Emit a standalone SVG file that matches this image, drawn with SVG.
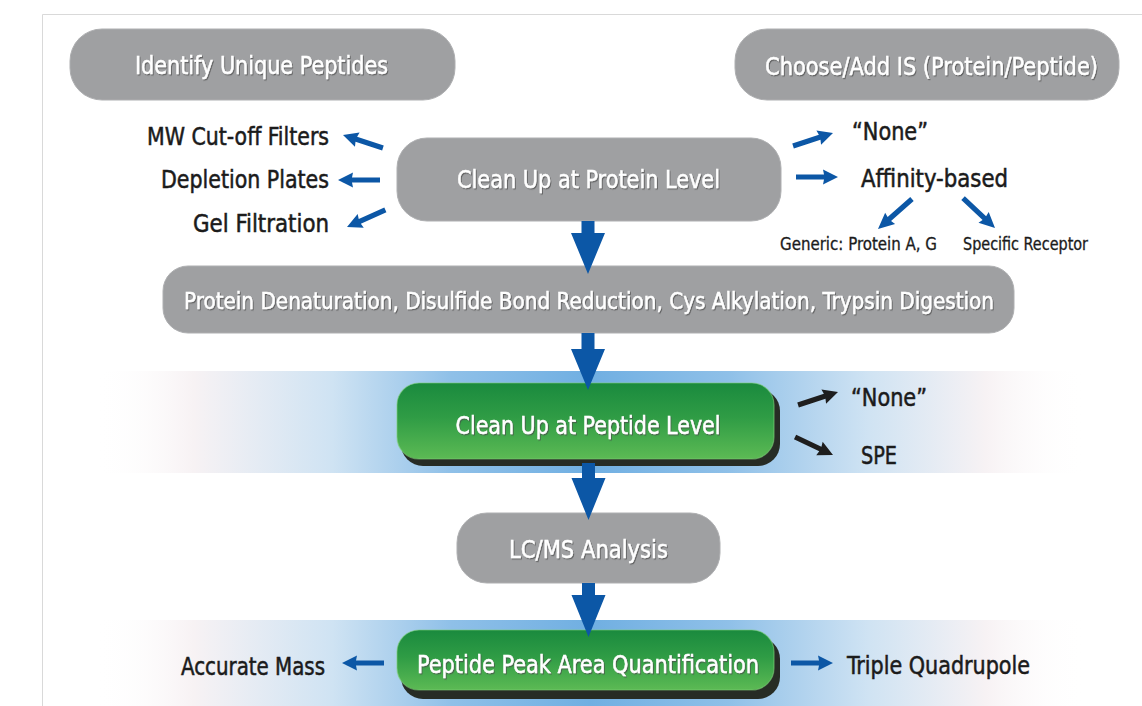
<svg xmlns="http://www.w3.org/2000/svg" xmlns:xlink="http://www.w3.org/1999/xlink" width="1142" height="706" viewBox="0 0 1142 706">
<style>
  text { font-family: "DejaVu Sans Condensed", "DejaVu Sans", "Liberation Sans", sans-serif; font-stretch: condensed; }
  .wt { fill: #ffffff; font-size: 24px; stroke: #ffffff; stroke-width: 0.45px; filter: url(#tshadow); }
  .lb { fill: #1b1b1b; font-size: 24px; stroke: #1b1b1b; stroke-width: 0.5px; }
  .sm { fill: #1b1b1b; font-size: 17px; stroke: #1b1b1b; stroke-width: 0.3px; }
  .gray { fill: #9fa0a2; stroke: #aeafb1; stroke-width: 1; }
  .blue { fill: #0c57a6; }
  .black { fill: #1e1e1e; }
  .shadow { fill: #272c25; }
  .green { fill: url(#ggrad); stroke: #7fcf7a; stroke-opacity: 0.6; stroke-width: 1.2; }
</style>
<defs>
  <filter id="tshadow" x="-10%" y="-30%" width="120%" height="160%">
    <feDropShadow dx="1" dy="1.2" stdDeviation="0.7" flood-color="#4a4a4a" flood-opacity="0.7"/>
  </filter>
  <linearGradient id="band" x1="0" y1="0" x2="1" y2="0">
    <stop offset="0" stop-color="#ffffff" stop-opacity="0"/>
    <stop offset="0.1" stop-color="#f7f2f4"/>
    <stop offset="0.24" stop-color="#cfe3f3"/>
    <stop offset="0.36" stop-color="#8fc0e8"/>
    <stop offset="0.5" stop-color="#70afe2"/>
    <stop offset="0.64" stop-color="#8fc0e8"/>
    <stop offset="0.78" stop-color="#cfe3f3"/>
    <stop offset="0.9" stop-color="#f7f2f4"/>
    <stop offset="1" stop-color="#ffffff" stop-opacity="0"/>
  </linearGradient>
  <linearGradient id="ggrad" x1="0" y1="0" x2="0" y2="1">
    <stop offset="0" stop-color="#1a8a3e"/>
    <stop offset="0.45" stop-color="#2f9c45"/>
    <stop offset="1" stop-color="#5cba54"/>
  </linearGradient>
  <path id="sa" d="M-42,-2.6 L-14,-2.6 L-15,-7.5 L0,0 L-15,7.5 L-14,2.6 L-42,2.6 Z"/>
</defs>

<rect width="1142" height="706" fill="#ffffff"/>
<path d="M42.5,706 L42.5,14.5 L1142,14.5" fill="none" stroke="#d9d9d9" stroke-width="1"/>

<g id="bands">
  <rect x="95" y="371" width="990" height="102" fill="url(#band)"/>
  <rect x="95" y="620" width="990" height="86" fill="url(#band)"/>
</g>

<g id="node-identify">
  <rect class="gray" x="70" y="29" width="385" height="71" rx="32"/>
  <text class="wt" x="261.5" y="74" text-anchor="middle" textLength="253" lengthAdjust="spacingAndGlyphs">Identify Unique Peptides</text>
</g>
<g id="node-choose">
  <rect class="gray" x="735" y="29" width="384" height="71" rx="32"/>
  <text class="wt" x="931.5" y="75" text-anchor="middle" textLength="333" lengthAdjust="spacingAndGlyphs">Choose/Add IS (Protein/Peptide)</text>
</g>
<g id="node-protein">
  <rect class="gray" x="397" y="138" width="384" height="83" rx="30"/>
  <text class="wt" x="588.5" y="188" text-anchor="middle" textLength="263" lengthAdjust="spacingAndGlyphs">Clean Up at Protein Level</text>
</g>
<g id="label-mw"><text class="lb" x="329" y="145" text-anchor="end" textLength="182" lengthAdjust="spacingAndGlyphs">MW Cut-off Filters</text></g>
<g id="label-depletion"><text class="lb" x="329" y="188" text-anchor="end" textLength="168" lengthAdjust="spacingAndGlyphs">Depletion Plates</text></g>
<g id="label-gel"><text class="lb" x="329" y="232" text-anchor="end" textLength="136" lengthAdjust="spacingAndGlyphs">Gel Filtration</text></g>
<g id="label-none1"><text class="lb" x="852" y="140" textLength="76" lengthAdjust="spacingAndGlyphs">“None”</text></g>
<g id="label-affinity"><text class="lb" x="861" y="187" textLength="147" lengthAdjust="spacingAndGlyphs">Affinity-based</text></g>
<g id="label-generic"><text class="sm" x="780" y="250" textLength="157" lengthAdjust="spacingAndGlyphs">Generic: Protein A, G</text></g>
<g id="label-specific"><text class="sm" x="963" y="250" textLength="125" lengthAdjust="spacingAndGlyphs">Specific Receptor</text></g>

<g id="node-denaturation">
  <rect class="gray" x="163" y="266" width="851" height="67" rx="25"/>
  <text class="wt" x="589" y="309" text-anchor="middle" style="font-size:23px" textLength="810" lengthAdjust="spacingAndGlyphs">Protein Denaturation, Disulfide Bond Reduction, Cys Alkylation, Trypsin Digestion</text>
</g>

<g id="node-peptide">
  <rect class="shadow" x="401" y="389" width="379" height="77" rx="22"/>
  <rect class="green" x="397" y="383" width="377" height="76" rx="22"/>
  <text class="wt" x="588" y="434" text-anchor="middle" textLength="265" lengthAdjust="spacingAndGlyphs">Clean Up at Peptide Level</text>
</g>
<g id="label-none2"><text class="lb" x="851" y="406" textLength="76" lengthAdjust="spacingAndGlyphs">“None”</text></g>
<g id="label-spe"><text class="lb" x="861" y="464" textLength="36" lengthAdjust="spacingAndGlyphs">SPE</text></g>

<g id="node-lcms">
  <rect class="gray" x="457" y="513" width="263" height="70" rx="30"/>
  <text class="wt" x="588.5" y="558" text-anchor="middle" textLength="159" lengthAdjust="spacingAndGlyphs">LC/MS Analysis</text>
</g>

<g id="node-quant">
  <rect class="shadow" x="401" y="637" width="379" height="62" rx="22"/>
  <rect class="green" x="397" y="630" width="377" height="60" rx="22"/>
  <text class="wt" x="588" y="673" text-anchor="middle" textLength="342" lengthAdjust="spacingAndGlyphs">Peptide Peak Area Quantification</text>
</g>
<g id="label-accurate"><text class="lb" x="325" y="675" text-anchor="end" textLength="144" lengthAdjust="spacingAndGlyphs">Accurate Mass</text></g>
<g id="label-triple"><text class="lb" x="847" y="674" textLength="183" lengthAdjust="spacingAndGlyphs">Triple Quadrupole</text></g>

<g id="connectors">
  <path class="blue" d="M581.5,221 L594.5,221 L594.5,233 L605,233 L588,274 L571,233 L581.5,233 Z"/>
  <path class="blue" d="M581.5,333 L594.5,333 L594.5,349 L605,349 L588,390 L571,349 L581.5,349 Z"/>
  <path class="blue" d="M582,463 L595,463 L595,478 L605.5,478 L588.5,520 L571.5,478 L582,478 Z"/>
  <path class="blue" d="M582,583 L595,583 L595,595 L605.5,595 L588.5,637 L571.5,595 L582,595 Z"/>
  <use xlink:href="#sa" class="blue" transform="translate(343,135) rotate(198)"/>
  <use xlink:href="#sa" class="blue" transform="translate(338,180) rotate(180)"/>
  <use xlink:href="#sa" class="blue" transform="translate(347,227) rotate(156)"/>
  <use xlink:href="#sa" class="blue" transform="translate(833,133) rotate(-18)"/>
  <use xlink:href="#sa" class="blue" transform="translate(838,177) rotate(0)"/>
  <use xlink:href="#sa" class="blue" transform="translate(878,229) rotate(138.5) scale(1.08,1)"/>
  <use xlink:href="#sa" class="blue" transform="translate(995,228) rotate(43) scale(1.04,1)"/>
  <use xlink:href="#sa" class="black" transform="translate(838,392) rotate(-18)"/>
  <use xlink:href="#sa" class="black" transform="translate(833,455) rotate(25.4)"/>
  <use xlink:href="#sa" class="blue" transform="translate(342,663) rotate(180)"/>
  <use xlink:href="#sa" class="blue" transform="translate(833,663) rotate(0)"/>
</g>
</svg>
